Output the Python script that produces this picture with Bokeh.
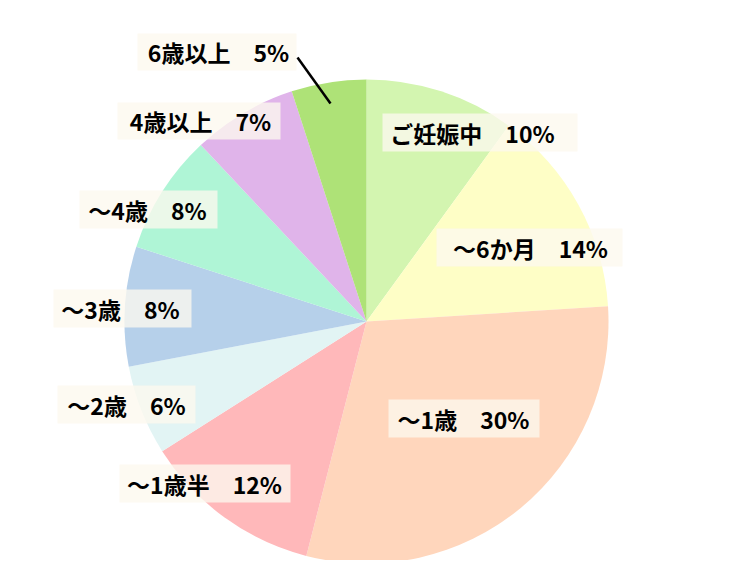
import math
from bokeh.plotting import figure
from bokeh.models import Range1d, ColumnDataSource
from bokeh.core.properties import value
from bokeh.embed import file_html
from bokeh.resources import INLINE

# ---- data ----
categories = ["ご妊娠中", "～6か月", "～1歳", "～1歳半", "～2歳", "～3歳", "～4歳", "4歳以上", "6歳以上"]
percents = [10, 14, 30, 12, 6, 8, 8, 7, 5]
colors = ["#d3f5b0", "#fefec6", "#ffd6bc", "#ffb8ba", "#e2f4f4", "#b6d0ea", "#aff5d6", "#e0b4ea", "#aee277"]

# ---- layout (image pixel coords) ----
W, H = 717, 560
CX, CY, R = 366, 321, 242
box_left = [382, 436, 388, 119, 57, 53, 79, 117, 137]
box_right = [577, 622, 539, 290, 195, 191, 217, 280, 296]
box_top = [113, 228, 399, 464, 385, 289, 190, 102, 33]
box_bottom = [151, 266, 437, 502, 423, 327, 228, 139, 70]
text_cx = [472, 530, 463, 204, 126, 120, 147, 200, 218]
leader = (297, 57, 330, 103)


def fy(y):
    return 576 - y


p = figure(width=W, height=H, output_backend="svg", toolbar_location=None,
           x_range=Range1d(0, W), y_range=Range1d(576 - H, 576),
           min_border=0, outline_line_color=None)
p.axis.visible = False
p.grid.visible = False
p.background_fill_color = "white"

total = sum(percents)
starts, ends = [], []
cum = 0.0
for v in percents:
    starts.append(math.pi / 2 - 2 * math.pi * cum / total)
    cum += v
    ends.append(math.pi / 2 - 2 * math.pi * cum / total)

src = ColumnDataSource(dict(start=starts, end=ends, color=colors))
p.wedge(x=CX, y=fy(CY), radius=R, start_angle="start", end_angle="end",
        direction="clock", fill_color="color", line_color=None, source=src)

# label boxes
p.quad(left=box_left, right=box_right, top=[fy(t) for t in box_top],
       bottom=[fy(b) for b in box_bottom], fill_color="#fcf8ee", fill_alpha=0.78,
       line_color=None)

labels = [f"{c}\u3000{v}%" for c, v in zip(categories, percents)]
ty = [fy((t + b) / 2) for t, b in zip(box_top, box_bottom)]
p.text(x=text_cx, y=ty, text=labels, text_align="center", text_baseline="middle",
       text_font=value("Noto Sans CJK JP"), text_font_style="bold",
       text_font_size="23px", text_color="#000000")

# leader line for the smallest slice
p.line(x=[leader[0], leader[2]], y=[fy(leader[1]), fy(leader[3])],
       line_color="black", line_width=2.5)

open("out.html", "w").write(file_html(p, INLINE))
